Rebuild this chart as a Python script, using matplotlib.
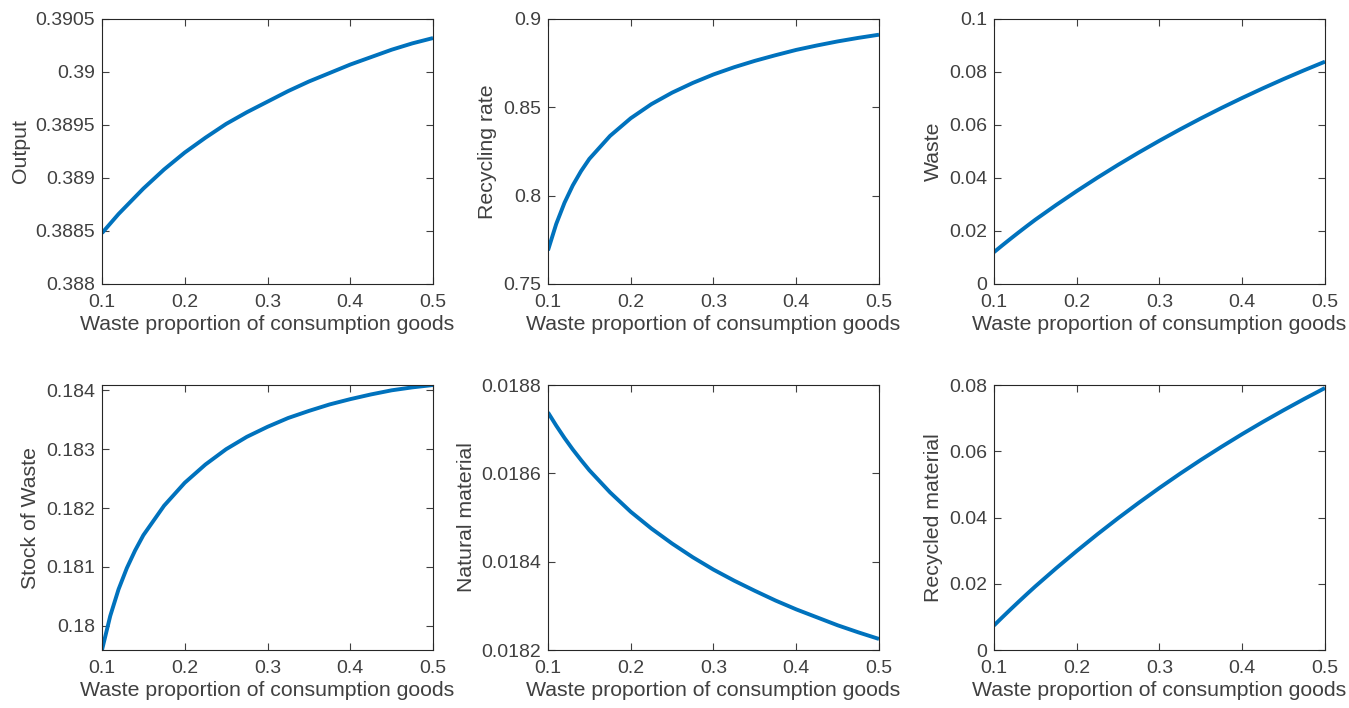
import matplotlib
matplotlib.use("Agg")
import numpy as np
import matplotlib.pyplot as plt
from matplotlib.ticker import FuncFormatter

plt.rcParams['font.family'] = ['Liberation Sans', 'DejaVu Sans']

# waste proportion of consumption goods (x) and the responses for each panel
x = [0.10, 0.11, 0.12, 0.13, 0.14, 0.15, 0.175, 0.20, 0.225, 0.25, 0.275, 0.30,
     0.325, 0.35, 0.375, 0.40, 0.425, 0.45, 0.475, 0.50]

output = [0.38848, 0.38857, 0.38866, 0.38874, 0.38882, 0.38890, 0.38908, 0.38924,
          0.38938, 0.38951, 0.38962, 0.38972, 0.38982, 0.38991, 0.38999, 0.39007,
          0.39014, 0.39021, 0.39027, 0.39032]
recycling_rate = [0.7690, 0.7840, 0.7960, 0.8058, 0.8139, 0.8208, 0.8338, 0.8438,
                  0.8518, 0.8583, 0.8638, 0.8686, 0.8727, 0.8763, 0.8795, 0.8825,
                  0.8850, 0.8873, 0.8893, 0.8911]
waste = [0.01200, 0.01455, 0.01705, 0.01950, 0.02190, 0.02425, 0.02977, 0.03505,
         0.04011, 0.04496, 0.04961, 0.05407, 0.05836, 0.06248, 0.06643, 0.07021,
         0.07384, 0.07733, 0.08067, 0.08389]
stock_waste = [0.17959, 0.18017, 0.18062, 0.18098, 0.18128, 0.18154, 0.18204, 0.18243,
               0.18274, 0.18300, 0.18321, 0.18338, 0.18353, 0.18365, 0.18376, 0.18385,
               0.18393, 0.18400, 0.18405, 0.18409]
natural_material = [0.018738, 0.018708, 0.018680, 0.018654, 0.018630, 0.018607, 0.018557,
                    0.018513, 0.018475, 0.018441, 0.018410, 0.018382, 0.018357, 0.018334,
                    0.018312, 0.018292, 0.018274, 0.018256, 0.018240, 0.018225]
recycled_material = [0.00740, 0.00985, 0.01225, 0.01461, 0.01693, 0.01921, 0.02465,
                     0.02989, 0.03494, 0.03979, 0.04445, 0.04894, 0.05325, 0.05739,
                     0.06136, 0.06519, 0.06887, 0.07240, 0.07581, 0.07910]

panels = [
    ("Output", output, (0.388, 0.3905), np.arange(0.388, 0.39051, 0.0005)),
    ("Recycling rate", recycling_rate, (0.75, 0.9), [0.75, 0.8, 0.85, 0.9]),
    ("Waste", waste, (0, 0.1), [0, 0.02, 0.04, 0.06, 0.08, 0.1]),
    ("Stock of Waste", stock_waste, (min(stock_waste), max(stock_waste)),
     [0.18, 0.181, 0.182, 0.183, 0.184]),
    ("Natural material", natural_material, (0.0182, 0.0188),
     [0.0182, 0.0184, 0.0186, 0.0188]),
    ("Recycled material", recycled_material, (0, 0.08), [0, 0.02, 0.04, 0.06, 0.08]),
]

text_col = '#404040'
fmt = FuncFormatter(lambda v, p: '%g' % round(v, 6))

fig = plt.figure(figsize=(13.49, 7.08), dpi=100)

lefts = [0.0756, 0.4062, 0.7368]
bottoms = [0.5989, 0.0819]
w, h = 0.2454, 0.3743

for i, (label, y, ylim, yticks) in enumerate(panels):
    ax = fig.add_axes([lefts[i % 3], bottoms[i // 3], w, h])
    ax.plot(x, y, color='#0072BD', lw=2.8, solid_capstyle='butt',
            solid_joinstyle='round')
    ax.set_xlim(0.1, 0.5)
    ax.set_ylim(*ylim)
    ax.set_xticks([0.1, 0.2, 0.3, 0.4, 0.5])
    ax.set_yticks(yticks)
    ax.xaxis.set_major_formatter(fmt)
    ax.yaxis.set_major_formatter(fmt)
    ax.tick_params(direction='in', length=5, width=0.8, top=True, right=True,
                   labelsize=14, colors=text_col)
    ax.tick_params(axis='x', pad=7)
    ax.tick_params(axis='y', pad=5)
    for s in ax.spines.values():
        s.set_color('#262626')
        s.set_linewidth(0.8)
    ax.set_xlabel("Waste proportion of consumption goods", fontsize=15.3,
                  color=text_col, labelpad=3)
    ax.set_ylabel(label, fontsize=15.3, color=text_col, labelpad=4)

fig.savefig("out.png", dpi=100)
